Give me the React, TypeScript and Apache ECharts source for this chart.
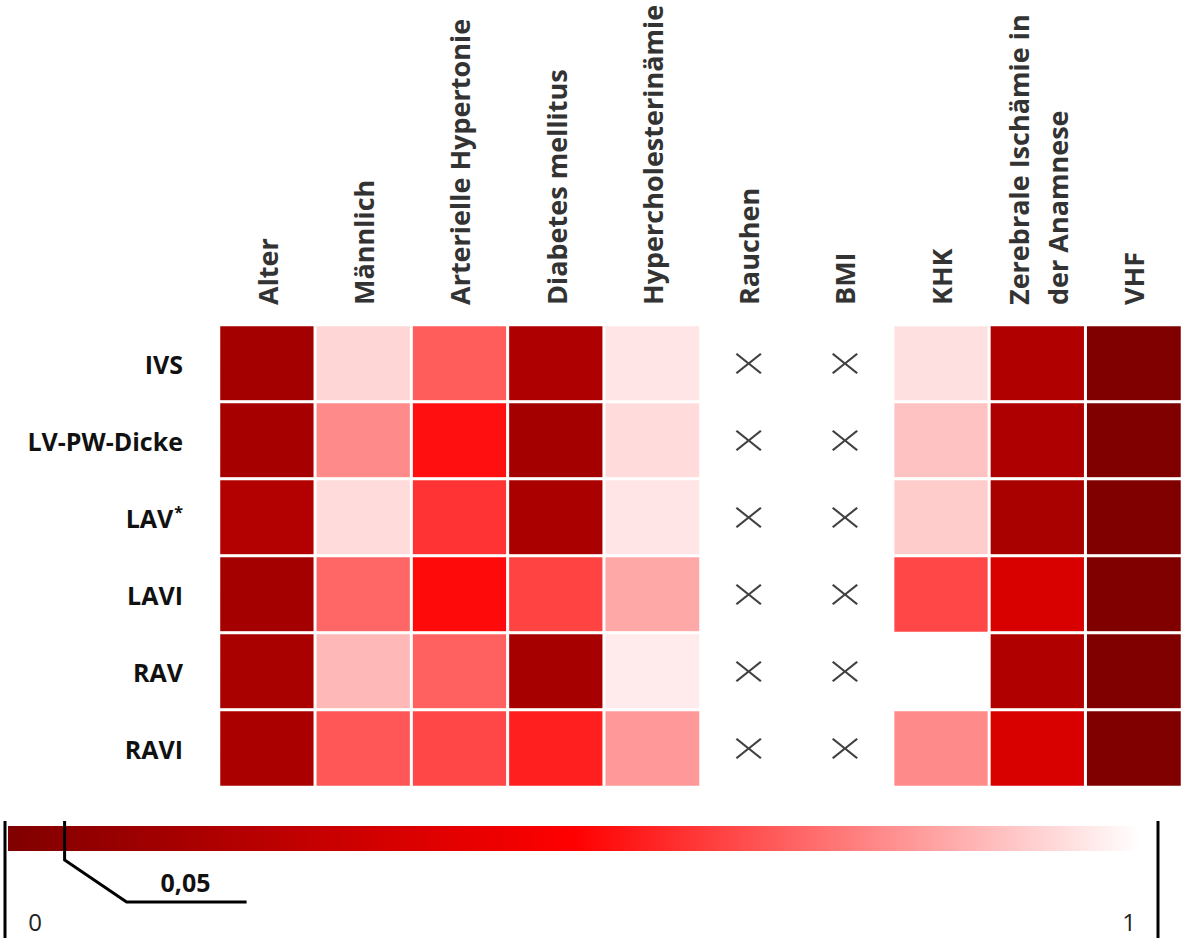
import React, { useEffect, useRef } from "react";
import * as echarts from "echarts";

const rows = ["IVS", "LV-PW-Dicke", "LAV*", "LAVI", "RAV", "RAVI"];
const columns = [
  "Alter",
  "Männlich",
  "Arterielle Hypertonie",
  "Diabetes mellitus",
  "Hypercholesterinämie",
  "Rauchen",
  "BMI",
  "KHK",
  "Zerebrale Ischämie in\nder Anamnese",
  "VHF",
];

// p-values read from the colour of each cell (null = not tested)
const ivs = [0.14, 0.92, 0.68, 0.18, 0.95, null, null, 0.94, 0.19, 0.0];
const lvpw = [0.15, 0.77, 0.53, 0.14, 0.93, null, null, 0.88, 0.18, 0.0];
const lav = [0.2, 0.93, 0.6, 0.17, 0.95, null, null, 0.9, 0.16, 0.0];
const lavi = [0.14, 0.7, 0.52, 0.63, 0.83, null, null, 0.64, 0.35, 0.0];
const rav = [0.16, 0.86, 0.69, 0.15, 0.96, null, null, null, 0.19, 0.0];
const ravi = [0.17, 0.67, 0.64, 0.56, 0.8, null, null, 0.77, 0.35, 0.0];
const rowValues = [ivs, lvpw, lav, lavi, rav, ravi];

const notTestedColumns = ["Rauchen", "BMI"];

const scaleColors = ["#800000", "#ff0000", "#ffffff"];
const scaleMin = 0;
const scaleMax = 1;
const markValue = 0.05;
const markLabel = "0,05";
const minLabel = "0";
const maxLabel = "1";

const crossPath =
  "path://M0,1.5L1.5,0L13,9.3L24.5,0L26,1.5L14.7,10.5L26,19.5L24.5,21L13,11.7L1.5,21L0,19.5L11.3,10.5Z";

export default function App() {
  const ref = useRef<HTMLDivElement>(null);

  useEffect(() => {
    if (!ref.current) return;
    const chart = echarts.init(ref.current, null, { renderer: "svg" });

    const heatData: any[] = [];
    rowValues.forEach((vals, r) => {
      vals.forEach((v, c) => {
        if (v !== null) heatData.push([c, r, v]);
      });
    });
    const crossData: any[] = [];
    rows.forEach((_, r) => {
      notTestedColumns.forEach((name) => {
        crossData.push([columns.indexOf(name), r]);
      });
    });

    const barX = 8;
    const barW = 1132;
    const barY = 826;
    const barH = 25;
    const pos = (v: number) => barX + ((v - scaleMin) / (scaleMax - scaleMin)) * barW;
    const markX = pos(markValue);

    const font = "'Open Sans', sans-serif";

    chart.setOption({
      animation: false,
      backgroundColor: "#ffffff",
      grid: { left: 219, right: 0, top: 325, bottom: 151 },
      xAxis: {
        type: "category",
        position: "top",
        data: columns,
        axisLine: { show: false },
        axisTick: { show: false },
        splitLine: { show: false },
        axisLabel: {
          rotate: -90,
          margin: 20,
          interval: 0,
          fontFamily: font,
          fontWeight: "bold",
          fontSize: 27,
          lineHeight: 39,
          color: "#333333",
        },
      },
      yAxis: {
        type: "category",
        data: rows,
        inverse: true,
        axisLine: { show: false },
        axisTick: { show: false },
        splitLine: { show: false },
        axisLabel: {
          margin: 36,
          interval: 0,
          fontFamily: font,
          fontWeight: "bold",
          fontSize: 25,
          color: "#111111",
          formatter: (v: string) =>
            v.endsWith("*") ? `{b|${v.slice(0, -1)}}{s|*}` : `{b|${v}}`,
          rich: {
            b: { fontFamily: font, fontWeight: "bold", fontSize: 25, color: "#111111" },
            s: {
              fontFamily: font,
              fontWeight: "bold",
              fontSize: 16,
              color: "#111111",
              verticalAlign: "top",
              padding: [0, 0, 12, 1],
            },
          },
        },
      },
      visualMap: {
        show: false,
        type: "continuous",
        min: scaleMin,
        max: scaleMax,
        seriesIndex: 0,
        inRange: { color: scaleColors },
      },
      series: [
        {
          type: "heatmap",
          data: heatData,
          itemStyle: { borderColor: "#ffffff", borderWidth: 3 },
          emphasis: { disabled: true },
        },
        {
          type: "scatter",
          data: crossData,
          symbol: crossPath,
          symbolSize: [26, 21],
          itemStyle: { color: "#111111" },
          z: 5,
        },
      ],
      graphic: [
        {
          type: "rect",
          shape: { x: barX, y: barY, width: barW, height: barH },
          style: {
            fill: new echarts.graphic.LinearGradient(
              0,
              0,
              1,
              0,
              scaleColors.map((c, i) => ({ offset: i / (scaleColors.length - 1), color: c }))
            ),
          },
        },
        {
          type: "line",
          shape: { x1: 5, y1: 821, x2: 5, y2: 938 },
          style: { stroke: "#000", lineWidth: 3 },
        },
        {
          type: "line",
          shape: { x1: 1158, y1: 821, x2: 1158, y2: 938 },
          style: { stroke: "#000", lineWidth: 3 },
        },
        {
          type: "polyline",
          shape: {
            points: [
              [markX, 821],
              [markX, 860],
              [markX + 62, 902],
              [markX + 182, 902],
            ],
          },
          style: { stroke: "#000", lineWidth: 3, fill: null },
        },
        {
          type: "text",
          style: {
            x: markX + 121,
            y: 882,
            text: markLabel,
            fontFamily: font,
            fontWeight: "bold",
            fontSize: 25,
            fill: "#111",
            align: "center",
            verticalAlign: "middle",
          },
        },
        {
          type: "text",
          style: {
            x: 35,
            y: 921,
            text: minLabel,
            fontFamily: font,
            fontSize: 24,
            fill: "#222",
            align: "center",
            verticalAlign: "middle",
          },
        },
        {
          type: "text",
          style: {
            x: 1129,
            y: 921,
            text: maxLabel,
            fontFamily: font,
            fontSize: 24,
            fill: "#222",
            align: "center",
            verticalAlign: "middle",
          },
        },
      ],
    });

    return () => chart.dispose();
  }, []);

  return (
    <div
      ref={ref}
      style={{ position: "fixed", left: 0, top: 0, width: 1182, height: 938 }}
    />
  );
}
